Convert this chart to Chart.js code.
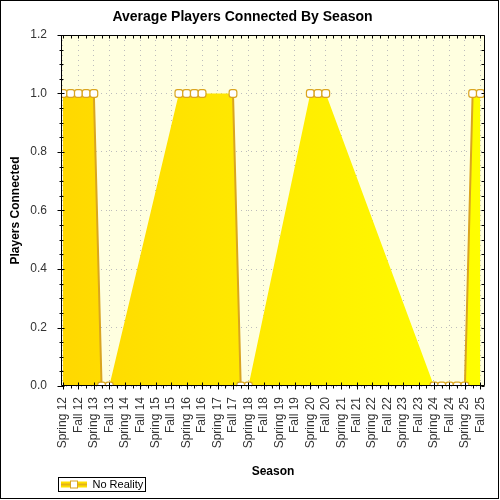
<!DOCTYPE html>
<html>
<head>
<meta charset="utf-8">
<script src="https://cdn.jsdelivr.net/npm/chart.js@4.4.1/dist/chart.umd.min.js"></script>
<style>
    html, body { margin: 0; padding: 0; background: #fff; }
    #wrap { width: 500px; height: 500px; position: relative; }
</style>
</head>
<body>
<div id="wrap"><canvas id="seasonChart"></canvas></div>
<script>
/* Average Players Connected By Season */

// categories, one per season (only every other one gets a label)
const SEASONS = [
    'Spring 12', 'Summer 12', 'Fall 12', 'Winter 12',
    'Spring 13', 'Summer 13', 'Fall 13', 'Winter 13',
    'Spring 14', 'Summer 14', 'Fall 14', 'Winter 14',
    'Spring 15', 'Summer 15', 'Fall 15', 'Winter 15',
    'Spring 16', 'Summer 16', 'Fall 16', 'Winter 16',
    'Spring 17', 'Summer 17', 'Fall 17', 'Winter 17',
    'Spring 18', 'Summer 18', 'Fall 18', 'Winter 18',
    'Spring 19', 'Summer 19', 'Fall 19', 'Winter 19',
    'Spring 20', 'Summer 20', 'Fall 20', 'Winter 20',
    'Spring 21', 'Summer 21', 'Fall 21', 'Winter 21',
    'Spring 22', 'Summer 22', 'Fall 22', 'Winter 22',
    'Spring 23', 'Summer 23', 'Fall 23', 'Winter 23',
    'Spring 24', 'Summer 24', 'Fall 24', 'Winter 24',
    'Spring 25', 'Summer 25', 'Fall 25'
];

// "No Reality" series, null = no value for that season
const NO_REALITY = [
    1, 1, 1, 1,
    1, 0, 0, null,
    null, null, null, null,
    null, null, null, 1,
    1, 1, 1, null,
    null, null, 1, 0,
    0, null, null, null,
    null, null, null, null,
    1, 1, 1, null,
    null, null, null, null,
    null, null, null, null,
    null, null, null, null,
    0, 0, 0, 0,
    0, 1, 1
];

const Y_TICKS = [0, 0.2, 0.4, 0.6, 0.8, 1.0, 1.2];
const Y_MINOR = 0.05;

const GOLD = '#DAA520';
const GRID = '#bdbdbd';

Chart.defaults.font.family = "'Liberation Sans', Arial, sans-serif";

// legend symbol: yellow band, line and marker
const legendIcon = document.createElement('canvas');
legendIcon.width = 26;
legendIcon.height = 10;
(() => {
    const c = legendIcon.getContext('2d');
    c.fillStyle = '#FFE000';
    c.fillRect(0, 2, 26, 6);
    c.strokeStyle = GOLD;
    c.lineWidth = 1.5;
    c.beginPath(); c.moveTo(0, 5); c.lineTo(26, 5); c.stroke();
    c.fillStyle = '#fff';
    c.lineWidth = 1;
    c.fillRect(9.5, 1.5, 7, 7);
    c.strokeRect(9.5, 1.5, 7, 7);
})();

const areaFill = (context) => {
    const { ctx, chartArea } = context.chart;
    if (!chartArea) return '#FFE800';
    const g = ctx.createLinearGradient(chartArea.left, 0, chartArea.right, 0);
    g.addColorStop(0, '#FFD800');
    g.addColorStop(1, '#FFFF00');
    return g;
};

// plot background, frame, tick marks, outer border
const framePlugin = {
    id: 'framePlugin',
    beforeDraw(chart) {
        const { ctx, chartArea: a, width, height } = chart;
        ctx.save();
        ctx.fillStyle = '#fff';
        ctx.fillRect(0, 0, width, height);
        ctx.fillStyle = '#FFFFE0';
        ctx.fillRect(a.left, a.top, a.right - a.left, a.bottom - a.top);
        ctx.restore();
    },
    afterDraw(chart) {
        const { ctx, chartArea: a, scales: { x, y }, width, height } = chart;
        const L = Math.round(a.left) + 0.5, R = Math.round(a.right) - 0.5;
        const T = Math.round(a.top) + 0.5, B = Math.round(a.bottom) - 0.5;
        const seg = (x1, y1, x2, y2) => { ctx.moveTo(x1, y1); ctx.lineTo(x2, y2); };
        ctx.save();
        ctx.strokeStyle = '#000';
        ctx.lineWidth = 1;
        ctx.beginPath();
        ctx.rect(L, T, R - L, B - T);
        // x ticks
        SEASONS.forEach((s, i) => {
            const px = Math.round(x.getPixelForValue(i)) + 0.5;
            if (i % 2 === 0) seg(px, B - 3, px, B + 4);
            else seg(px, B, px, B + 3);
            seg(px, T, px, T + 3);
        });
        // y ticks
        const top = Y_TICKS[Y_TICKS.length - 1];
        for (let k = 0; k * Y_MINOR <= top + 1e-9; k++) {
            const v = k * Y_MINOR;
            const py = Math.round(y.getPixelForValue(v)) + 0.5;
            const major = Y_TICKS.some(t => Math.abs(t - v) < 1e-9);
            if (major) seg(L - 4, py, L + 3, py);
            else seg(L - 2, py, L + 2, py);
            seg(R - 3, py, R, py);
        }
        ctx.stroke();
        // legend box
        const hb = chart.legend.legendHitBoxes[0];
        if (hb) {
            ctx.strokeRect(Math.round(hb.left) - 2.5, Math.round(hb.top) - 1.5,
                Math.round(hb.width) + 5, Math.round(hb.height) + 3);
        }
        ctx.strokeRect(0.5, 0.5, width - 2, height - 2);
        ctx.restore();
    }
};

const points = NO_REALITY.map((v, i) => ({ x: i, y: v }));

new Chart(document.getElementById('seasonChart'), {
    type: 'line',
    data: {
        datasets: [{
            label: 'No Reality',
            data: points,
            order: 0,
            spanGaps: false,
            fill: false,
            borderColor: GOLD,
            borderWidth: 2,
            pointStyle: 'rectRounded',
            pointRadius: 4.5,
            pointBackgroundColor: '#fff',
            pointBorderColor: GOLD,
            pointBorderWidth: 1.2
        }, {
            label: 'area',
            data: points,
            order: 1,
            spanGaps: true,
            fill: 'origin',
            backgroundColor: areaFill,
            borderWidth: 0,
            borderColor: 'transparent',
            pointRadius: 0
        }]
    },
    options: {
        responsive: true,
        maintainAspectRatio: false,
        animation: false,
        events: [],
        layout: { padding: { left: 0, right: 15, top: 0, bottom: 0 } },
        plugins: {
            title: {
                display: true,
                text: 'Average Players Connected By Season',
                color: '#000',
                font: { size: 14, weight: 'bold' },
                padding: { top: 9.2, bottom: 9 }
            },
            legend: {
                position: 'bottom',
                align: 'start',
                fullSize: false,
                labels: {
                    usePointStyle: true,
                    pointStyleWidth: 26,
                    boxHeight: 10,
                    padding: 0,
                    color: '#000',
                    font: { size: 11 },
                    generateLabels: () => [{
                        text: 'No Reality',
                        pointStyle: legendIcon,
                        fillStyle: 'transparent',
                        strokeStyle: 'transparent',
                        lineWidth: 0,
                        hidden: false,
                        datasetIndex: 0
                    }]
                }
            },
            tooltip: { enabled: false }
        },
        scales: {
            x: {
                type: 'linear',
                min: -0.25,
                max: SEASONS.length - 0.4,
                afterBuildTicks: s => { s.ticks = SEASONS.map((_, i) => ({ value: i })); },
                afterFit: s => { s.height = 93; s.paddingLeft = 0; s.paddingRight = 0; },
                ticks: {
                    autoSkip: false,
                    maxRotation: 90,
                    minRotation: 90,
                    padding: 11,
                    color: '#333',
                    font: { size: 12 },
                    callback: v => (v % 2 === 0 ? SEASONS[v] : '')
                },
                grid: {
                    drawTicks: false,
                    color: c => (c.tick && c.tick.value % 2 === 0 ? GRID : 'transparent')
                },
                border: { display: false, dash: [1, 4] },
                title: {
                    display: true,
                    text: 'Season',
                    color: '#000',
                    font: { size: 12, weight: 'bold' },
                    padding: { top: 7, bottom: 0 }
                }
            },
            y: {
                min: 0,
                max: Y_TICKS[Y_TICKS.length - 1],
                afterBuildTicks: s => { s.ticks = Y_TICKS.map(v => ({ value: v })); },
                afterFit: s => { s.width = 61; s.paddingTop = 0; s.paddingBottom = 0; },
                ticks: {
                    padding: 14,
                    color: '#333',
                    font: { size: 12 },
                    callback: v => v.toFixed(1)
                },
                grid: { drawTicks: false, color: GRID },
                border: { display: false, dash: [1, 4] },
                title: {
                    display: true,
                    text: 'Players Connected',
                    color: '#000',
                    font: { size: 12, weight: 'bold' },
                    padding: { top: 8, bottom: 0 }
                }
            }
        }
    },
    plugins: [framePlugin]
});
</script>
</body>
</html>
